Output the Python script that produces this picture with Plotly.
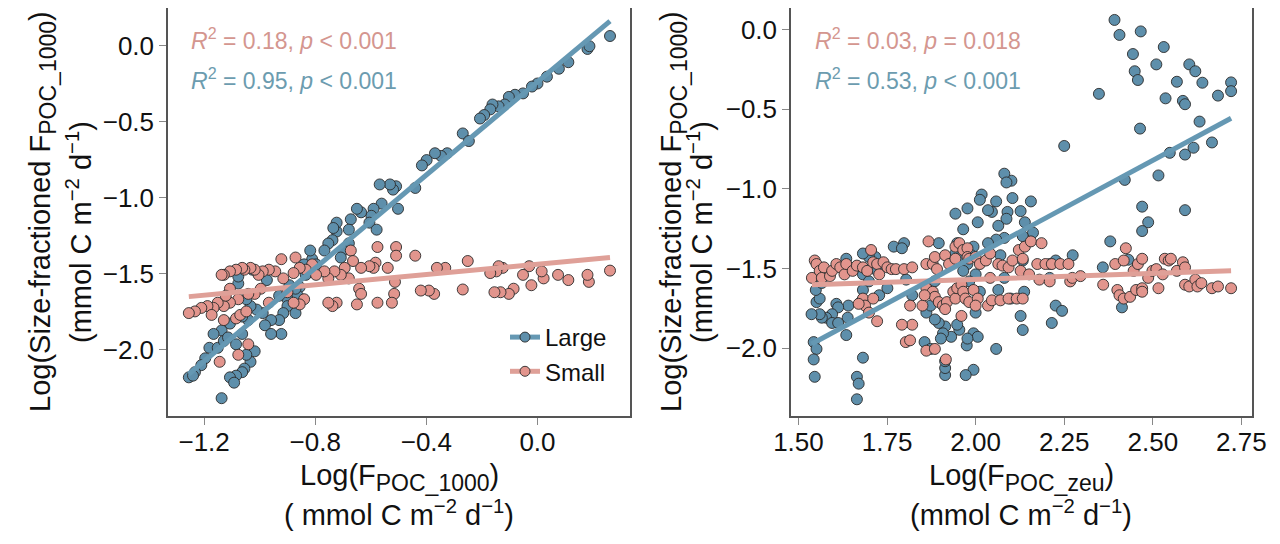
import plotly.graph_objects as go

# ---------------- data ----------------
left_large_x = [0.261, 0.180, 0.187, 0.111, 0.077, 0.034, 0.0, -0.02, -0.052, -0.081, -0.103, -0.118, -0.14, -0.162,
                -0.17, -0.192, -0.207, -0.269, -0.247, -0.325, -0.347, -0.369, -0.399, -0.416, -0.44, -0.502, -0.509,
                -0.52, -0.531, -0.568, -0.561, -0.59, -0.598, -0.605, -0.579, -0.635, -0.65, -0.672, -0.679, -0.723,
                -0.738, -0.753, -0.767, -0.723, -0.735, -0.679, -0.7, -0.708, -0.811, -0.818, -0.84, -0.797, -0.834,
                -0.856, -0.863, -0.9, -0.9, -0.915, -0.93, -0.959, -0.981, -0.989, -1.011, -1.033, -1.048, -1.041,
                -1.063, -1.085, -1.077, -1.077, -1.026, -0.974, -0.93, -0.871, -0.922, -0.959, -1.018, -1.033, -1.048,
                -1.055, -1.063, -1.085, -1.107, -1.092, -1.137, -1.137, -1.166, -1.181, -1.151, -1.129, -1.114, -1.196,
                -1.21, -1.233, -1.255, -1.24, -1.107, -1.063, -0.871, -0.893]
left_large_y = [0.062, -0.023, -0.005, -0.11, -0.153, -0.205, -0.25, -0.27, -0.315, -0.324, -0.338, -0.388, -0.40,
                -0.388, -0.42, -0.457, -0.48, -0.578, -0.628, -0.708, -0.726, -0.708, -0.753, -0.788, -0.936, -1.073,
                -0.925, -0.947, -0.913, -0.913, -1.039, -1.073, -1.119, -1.164, -1.21, -1.096, -1.073, -1.142, -1.21,
                -1.222, -1.279, -1.301, -1.347, -1.164, -1.199, -1.30, -1.347, -1.393, -1.404, -1.347, -1.438, -1.438,
                -1.507, -1.587, -1.644, -1.667, -1.712, -1.758, -1.804, -1.804, -1.838, -1.758, -1.735, -1.712, -1.667,
                -1.804, -1.895, -1.963, -1.564, -1.518, -1.473, -1.541, -1.644, -1.758, -1.895, -1.895, -2.009, -2.078,
                -2.032, -2.123, -2.146, -2.169, -2.18, -2.215, -2.317, -1.872, -1.895, -1.986, -1.986, -1.941, -1.918,
                -2.055, -2.10, -2.146, -2.18, -2.169, -1.827, -1.781, -1.598, -1.575]

left_small_x = [0.261, 0.185, 0.18, 0.111, 0.074, 0.022, 0.015, -0.022, -0.03, -0.052, -0.086, -0.103, -0.125, -0.14,
                -0.148, -0.133, -0.155, -0.17, -0.251, -0.269, -0.332, -0.362, -0.372, -0.391, -0.42, -0.44, -0.509,
                -0.509, -0.513, -0.516, -0.524, -0.539, -0.576, -0.583, -0.59, -0.576, -0.605, -0.635, -0.642, -0.635,
                -0.65, -0.679, -0.672, -0.664, -0.694, -0.708, -0.731, -0.753, -0.723, -0.738, -0.753, -0.767, -0.797,
                -0.811, -0.834, -0.856, -0.871, -0.878, -0.84, -0.856, -0.878, -0.9, -0.915, -0.922, -0.944, -0.967,
                -0.989, -1.004, -1.018, -1.033, -1.055, -1.063, -1.085, -1.107, -1.129, -1.137, -0.996, -1.018, -1.041,
                -1.077, -1.107, -1.129, -1.151, -1.166, -1.188, -1.21, -1.233, -1.255, -1.173, -1.129, -1.085, -1.07,
                -1.048, -0.967, -1.077, -1.041, -1.144, -1.107, -1.122]
left_small_y = [-1.479, -1.553, -1.507, -1.541, -1.507, -1.53, -1.484, -1.575, -1.45, -1.507, -1.598, -1.632, -1.461,
                -1.45, -1.484, -1.621, -1.621, -1.495, -1.416, -1.603, -1.461, -1.461, -1.632, -1.61, -1.61, -1.381,
                -1.324, -1.381, -1.553, -1.632, -1.69, -1.461, -1.324, -1.427, -1.461, -1.69, -1.45, -1.461, -1.598,
                -1.632, -1.701, -1.53, -1.347, -1.416, -1.461, -1.507, -1.484, -1.53, -1.69, -1.712, -1.69, -1.484,
                -1.507, -1.438, -1.473, -1.461, -1.393, -1.495, -1.667, -1.701, -1.69, -1.621, -1.53, -1.404, -1.484,
                -1.473, -1.484, -1.507, -1.473, -1.461, -1.473, -1.461, -1.473, -1.484, -1.507, -1.507, -1.598, -1.632,
                -1.632, -1.667, -1.69, -1.712, -1.69, -1.724, -1.712, -1.724, -1.747, -1.758, -1.770, -1.804, -1.793,
                -1.77, -1.747, -1.69, -2.032, -1.963, -2.078, -1.598, -1.644]

right_large_x = [2.392, 2.406, 2.466, 2.444, 2.449, 2.458, 2.531, 2.51, 2.568, 2.536, 2.603, 2.62, 2.64, 2.585, 2.591,
                 2.684, 2.721, 2.721, 2.632, 2.464, 2.348, 2.25, 2.667, 2.615, 2.548, 2.591, 2.421, 2.516, 2.591, 2.47,
                 2.487, 2.47, 2.38, 2.359, 2.431, 2.413, 2.274, 2.209, 2.209, 2.226, 2.244, 2.215, 2.162, 2.133, 2.137,
                 2.127, 2.133, 2.156, 2.127, 2.104, 2.101, 2.081, 2.087, 2.09, 2.087, 2.058, 2.046, 2.035, 2.017, 2.012,
                 2.006, 2.064, 2.081, 2.058, 2.07, 2.081, 2.064, 2.099, 2.035, 1.994, 1.988, 2.0, 1.982, 2.012, 2.0,
                 1.994, 2.006, 2.058, 1.994, 1.972, 1.975, 1.977, 1.954, 1.948, 1.931, 1.914, 1.908, 1.902, 1.896,
                 1.885, 1.861, 1.873, 1.885, 1.896, 1.943, 1.977, 1.965, 1.948, 1.943, 1.96, 1.977, 1.965, 1.914, 1.914,
                 1.914, 1.856, 1.873, 1.798, 1.769, 1.792, 1.717, 1.699, 1.682, 1.722, 1.682, 1.699, 1.728, 1.682,
                 1.676, 1.804, 1.821, 1.751, 1.682, 1.665, 1.67, 1.665, 1.641, 1.639, 1.635, 1.635, 1.607, 1.612,
                 1.595, 1.578, 1.566, 1.595, 1.612, 1.560, 1.537, 1.551, 1.56, 1.549, 1.566, 1.543, 1.551, 1.543,
                 1.546, 2.226, 2.139, 2.133]
right_large_y = [0.061, -0.033, -0.011, -0.153, -0.261, -0.316, -0.109, -0.218, -0.327, -0.431, -0.218, -0.261, -0.333,
                 -0.447, -0.468, -0.414, -0.331, -0.386, -0.577, -0.621, -0.403, -0.73, -0.708, -0.741, -0.773, -0.784,
                 -0.943, -0.915, -1.133, -1.111, -1.209, -1.264, -1.329, -1.492, -1.444, -1.743, -1.416, -1.471, -1.558,
                 -1.732, -1.765, -1.841, -1.274, -1.449, -1.645, -1.797, -1.885, -1.078, -1.139, -1.057, -0.948, -0.904,
                 -0.959, -1.144, -1.187, -1.078, -1.144, -1.133, -1.035, -1.068, -1.209, -1.231, -1.307, -1.318, -1.416,
                 -1.558, -1.634, -1.688, -1.34, -1.362, -1.416, -1.536, -1.58, -1.645, -1.776, -1.906, -1.928, -2.004,
                 -2.135, -2.168, -1.982, -1.939, -1.884, -1.852, -1.928, -1.863, -1.906, -1.939, -1.841, -1.819, -1.776,
                 -1.732, -1.579, -1.34, -1.155, -1.122, -1.253, -1.34, -1.405, -1.427, -1.471, -1.514, -2.168, -2.124,
                 -2.081, -1.961, -2.004, -1.34, -1.362, -1.372, -1.427, -1.427, -1.405, -1.514, -1.536, -1.58, -1.667,
                 -1.634, -1.71, -1.569, -1.667, -1.623, -2.059, -2.179, -2.222, -2.32, -1.732, -1.808, -1.917, -1.438,
                 -1.721, -1.743, -1.786, -1.808, -1.808, -1.841, -1.841, -1.786, -1.786, -1.71, -1.688, -1.634, -1.59,
                 -1.961, -2.004, -2.07, -2.179, -1.449, -1.209, -1.296]

right_small_x = [1.538, 1.546, 1.551, 1.56, 1.566, 1.572, 1.589, 1.595, 1.607, 1.618, 1.63, 1.635, 1.653, 1.665, 1.682,
                 1.694, 1.705, 1.711, 1.722, 1.74, 1.751, 1.728, 1.682, 1.688, 1.67, 1.699, 1.711, 1.722, 1.763, 1.775,
                 1.798, 1.821, 1.821, 1.803, 1.815, 1.861, 1.867, 1.879, 1.885, 1.891, 1.914, 1.925, 1.943, 1.943,
                 1.954, 1.965, 1.977, 1.977, 1.982, 2.0, 2.012, 2.029, 2.041, 2.064, 2.076, 2.093, 2.104, 2.122, 2.139,
                 2.133, 2.156, 2.174, 2.186, 2.197, 2.215, 2.239, 2.262, 2.267, 2.273, 2.296, 1.861, 1.879, 1.885,
                 1.896, 1.908, 1.919, 1.914, 1.937, 1.943, 1.948, 1.96, 1.965, 1.971, 1.982, 1.994, 2.006, 2.0, 1.96,
                 1.85, 1.856, 1.815, 1.792, 1.861, 1.885, 1.916, 2.035, 2.046, 2.07, 2.093, 2.116, 2.133, 2.127, 2.151,
                 2.18, 2.209, 2.041, 2.36, 2.394, 2.418, 2.424, 2.4, 2.406, 2.418, 2.436, 2.453, 2.47, 2.47, 2.446,
                 2.458, 2.47, 2.487, 2.499, 2.516, 2.51, 2.528, 2.534, 2.545, 2.551, 2.568, 2.585, 2.591, 2.591, 2.603,
                 2.62, 2.626, 2.637, 2.667, 2.684, 2.721]
right_small_y = [-1.558, -1.449, -1.471, -1.514, -1.558, -1.492, -1.547, -1.514, -1.471, -1.492, -1.536, -1.471, -1.514,
                 -1.481, -1.492, -1.514, -1.383, -1.46, -1.471, -1.46, -1.492, -1.536, -1.688, -1.732, -1.721, -1.776,
                 -1.688, -1.83, -1.503, -1.503, -1.503, -1.492, -1.852, -1.961, -1.95, -1.471, -1.329, -1.471, -1.427,
                 -1.503, -1.416, -1.471, -1.438, -1.362, -1.34, -1.383, -1.372, -1.427, -1.438, -1.427, -1.471, -1.449,
                 -1.405, -1.471, -1.481, -1.492, -1.449, -1.383, -1.362, -1.438, -1.329, -1.471, -1.34, -1.471, -1.471,
                 -1.471, -1.471, -1.58, -1.558, -1.547, -1.623, -1.645, -1.677, -1.71, -1.732, -1.71, -1.754, -1.645,
                 -1.688, -1.623, -1.601, -1.645, -1.688, -1.71, -1.634, -1.688, -1.732, -1.797, -1.732, -1.667, -1.732,
                 -1.852, -2.015, -2.004, -2.07, -1.732, -1.699, -1.699, -1.688, -1.688, -1.688, -1.514, -1.536, -1.569,
                 -1.58, -1.558, -1.601, -1.471, -1.449, -1.372, -1.634, -1.667, -1.688, -1.677, -1.634, -1.623, -1.645,
                 -1.514, -1.471, -1.438, -1.558, -1.514, -1.623, -1.503, -1.536, -1.438, -1.449, -1.438, -1.514, -1.46,
                 -1.492, -1.601, -1.612, -1.569, -1.612, -1.591, -1.623, -1.612, -1.623]

# linear fits (slope, intercept) as drawn in the reference
fit_left_large = [1.529, -0.239]
fit_left_small = [0.1696, -1.437]
fit_right_large = [1.197, -3.813]
fit_right_small = [0.0735, -1.714]

stats_left = ["0.18, <i>p</i> &lt; 0.001", "0.95, <i>p</i> &lt; 0.001"]
stats_right = ["0.03, <i>p</i> = 0.018", "0.53, <i>p</i> &lt; 0.001"]

left_xticks = [-1.2, -0.8, -0.4, 0.0]
right_xticks = [1.50, 1.75, 2.00, 2.25, 2.50, 2.75]
yticks = [0.0, -0.5, -1.0, -1.5, -2.0]

# ---------------- styling ----------------
BLUE = "#5e8fab"
SALMON = "#e2958d"
BLUE_LINE = "#6598b3"
SALMON_LINE = "#dfa098"
BLUE_TXT = "#6c9caf"
SALMON_TXT = "#d4968f"
FONT = "Liberation Sans, Arial, sans-serif"
# the page body adds an 8 px offset; the figure fills the rest of the 1280x544 window
OFF = 8
W, H = 1280 - OFF, 544 - OFF
TITLE_SIZE = 29
SUB_SIZE = 23


def px_x(p):
    return (p - OFF) / W


def px_y(p):
    return min(1.0, 1 - (p - OFF) / H)


fig = go.Figure()

marker_line = dict(color="#2b2b2b", width=0.9)


def add_panel(xl, yl, xs, ys, fl, fs, xa, ya):
    fig.add_trace(go.Scatter(x=xl, y=yl, mode="markers", xaxis=xa, yaxis=ya, showlegend=False,
                             marker=dict(size=11, color=BLUE, line=marker_line)))
    fig.add_trace(go.Scatter(x=xs, y=ys, mode="markers", xaxis=xa, yaxis=ya, showlegend=False,
                             marker=dict(size=11, color=SALMON, line=marker_line)))
    for xv, fit, col in ((xs, fs, SALMON_LINE), (xl, fl, BLUE_LINE)):
        x0, x1 = min(xv), max(xv)
        fig.add_trace(go.Scatter(x=[x0, x1], y=[fit[0] * x0 + fit[1], fit[0] * x1 + fit[1]],
                                 mode="lines", xaxis=xa, yaxis=ya, showlegend=False,
                                 line=dict(color=col, width=5)))


add_panel(left_large_x, left_large_y, left_small_x, left_small_y, fit_left_large, fit_left_small, "x", "y")
add_panel(right_large_x, right_large_y, right_small_x, right_small_y, fit_right_large, fit_right_small, "x2", "y2")

# legend-only entries
for name, mc, lc in (("Large", BLUE, BLUE_LINE), ("Small", SALMON, SALMON_LINE)):
    fig.add_trace(go.Scatter(x=[None], y=[None], mode="lines+markers", name=name,
                             marker=dict(size=10, color=mc, line=marker_line),
                             line=dict(color=lc, width=5)))

axis_common = dict(showline=True, mirror=True, linecolor="#555555", linewidth=1.5, ticks="outside",
                   ticklen=7, tickwidth=1.2, tickcolor="#888888", showgrid=False, zeroline=False,
                   automargin=False, tickfont=dict(family=FONT, size=26, color="#111111"))

fig.update_layout(
    width=W, height=H, margin=dict(l=0, r=0, t=0, b=0, autoexpand=False),
    paper_bgcolor="white", plot_bgcolor="white",
    font=dict(family=FONT, color="#111111"),
    xaxis=dict(domain=[px_x(168), px_x(630)], range=[-1.33, 0.333], tickvals=left_xticks,
               tickformat=".1f", anchor="y", ticklabelstandoff=-5, **axis_common),
    yaxis=dict(domain=[px_y(416), px_y(8)], range=[-2.434, 0.246], tickvals=yticks,
               tickformat=".1f", anchor="x", **axis_common),
    xaxis2=dict(domain=[px_x(791), px_x(1252)], range=[1.479, 2.78], tickvals=right_xticks,
                tickformat=".2f", anchor="y2", ticklabelstandoff=-5, **axis_common),
    yaxis2=dict(domain=[px_y(416), px_y(8)], range=[-2.425, 0.136], tickvals=yticks,
                tickformat=".1f", anchor="x2", **axis_common),
    legend=dict(x=px_x(505), y=px_y(315), xanchor="left", yanchor="top", bgcolor="rgba(0,0,0,0)",
                font=dict(family=FONT, size=24, color="#111111"), itemwidth=30, tracegroupgap=2),
)


def sub(t):
    return "<sub><span style='font-size:%dpx'>%s</span></sub>" % (SUB_SIZE, t)


ann = []
sup = "<sup>\u22122</sup>"
sup1 = "<sup>\u22121</sup>"
ytitle1 = "Log(Size-fractioned F" + sub("POC_1000") + ")"
ytitle2 = "(mmol C m" + sup + " d" + sup1 + ")"
for cx1, cx2 in ((42, 79), (673, 700)):
    ann.append(dict(text=ytitle1, x=px_x(cx1), y=px_y(212), textangle=-90, showarrow=False,
                    xref="paper", yref="paper", xanchor="center", yanchor="middle",
                    font=dict(family=FONT, size=TITLE_SIZE, color="#111111")))
    ann.append(dict(text=ytitle2, x=px_x(cx2), y=px_y(232), textangle=-90, showarrow=False,
                    xref="paper", yref="paper", xanchor="center", yanchor="middle",
                    font=dict(family=FONT, size=TITLE_SIZE, color="#111111")))

xtitles = [("Log(F" + sub("POC_1000") + ")", "( mmol C m" + sup + " d" + sup1 + ")", 399),
           ("Log(F" + sub("POC_zeu") + ")", "(mmol C m" + sup + " d" + sup1 + ")", 1021)]
for t1, t2, cx in xtitles:
    ann.append(dict(text=t1, x=px_x(cx), y=px_y(477), showarrow=False, xref="paper", yref="paper",
                    xanchor="center", yanchor="middle",
                    font=dict(family=FONT, size=TITLE_SIZE, color="#111111")))
    ann.append(dict(text=t2, x=px_x(cx), y=px_y(513), showarrow=False, xref="paper", yref="paper",
                    xanchor="center", yanchor="middle",
                    font=dict(family=FONT, size=TITLE_SIZE, color="#111111")))

for stats, x0 in ((stats_left, 189), (stats_right, 813)):
    for txt, yc, col in ((stats[0], 39, SALMON_TXT), (stats[1], 79, BLUE_TXT)):
        ann.append(dict(text="<i>R</i><sup>2</sup> = " + txt, x=px_x(x0), y=px_y(yc), showarrow=False,
                        xref="paper", yref="paper", xanchor="left", yanchor="middle",
                        font=dict(family=FONT, size=23, color=col)))

fig.update_layout(annotations=ann)
fig.write_html("out.html")
